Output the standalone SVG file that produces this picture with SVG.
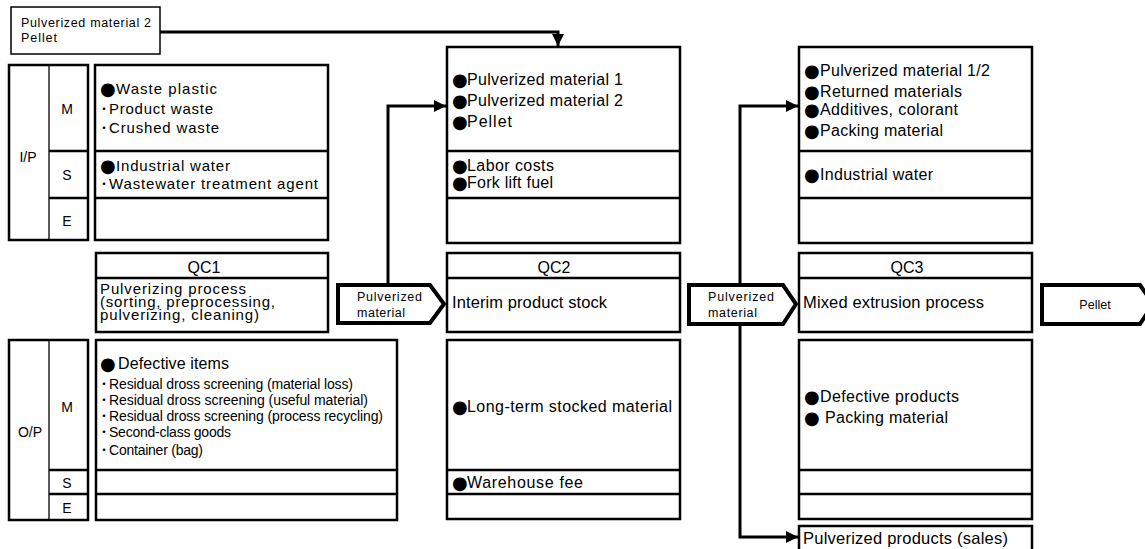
<svg xmlns="http://www.w3.org/2000/svg" width="1145" height="549" viewBox="0 0 1145 549">
<style>
text{font-family:"Liberation Sans",Arial,sans-serif;fill:#000}
.box{fill:#fff;stroke:#000;stroke-width:2.5}
.thin{fill:#fff;stroke:#000;stroke-width:1.5}
.div{stroke:#000;stroke-width:2.5;fill:none}
.vdiv{stroke:#000;stroke-width:1.3;fill:none}
.pent{fill:#fff;stroke:#000;stroke-width:4;stroke-linejoin:miter}
.conn{fill:none;stroke:#000;stroke-width:3}
.lbl{font-size:14px;text-anchor:middle}
.it{font-size:15px}
.it2{font-size:16px}
.sm{font-size:14px}
.proc{font-size:16.5px}
.pp{font-size:15px}
.qc{font-size:16px;text-anchor:middle}
.pt{font-size:12.5px}
.b{font-family:"DejaVu Sans",sans-serif;font-size:18px}
.d{font-family:"Noto Sans CJK JP",sans-serif;font-size:12px}
</style>
<defs>
<marker id="ah" markerUnits="userSpaceOnUse" markerWidth="14" markerHeight="14" refX="12" refY="7" orient="auto">
<path d="M0,1 L12,7 L0,13 Z" fill="#000"/>
</marker>
</defs>

<g id="connectors">
<path class="conn" d="M160,32 H558 V46" marker-end="url(#ah)"/>
<path class="conn" d="M388,285 V106 H446" marker-end="url(#ah)"/>
<path class="conn" d="M740,285 V106 H798" marker-end="url(#ah)"/>
<path class="conn" d="M740,324 V537 H798" marker-end="url(#ah)"/>
</g>

<g id="note">
<rect class="thin" x="11" y="7" width="149" height="47"/>
<text class="pt" x="21" y="27" textLength="130" lengthAdjust="spacing">Pulverized material 2</text>
<text class="pt" x="21" y="42" textLength="36" lengthAdjust="spacing">Pellet</text>
</g>

<g id="ip-label">
<rect class="box" x="9" y="65" width="79" height="175"/>
<line class="vdiv" x1="49" y1="65" x2="49" y2="240"/>
<line class="div" x1="49" y1="151" x2="88" y2="151"/>
<line class="div" x1="49" y1="198" x2="88" y2="198"/>
<text class="lbl" x="28" y="162">I/P</text>
<text class="lbl" x="67" y="114">M</text>
<text class="lbl" x="67" y="180">S</text>
<text class="lbl" x="67" y="226">E</text>
</g>

<g id="ip1">
<rect class="box" x="95" y="65" width="233" height="175"/>
<line class="div" x1="95" y1="151" x2="328" y2="151"/>
<line class="div" x1="95" y1="198" x2="328" y2="198"/>
<text class="b" x="100" y="95">●</text>
<text class="it" x="116" y="94" textLength="101" lengthAdjust="spacing">Waste plastic</text>
<text class="d" x="98" y="114">・</text>
<text class="it" x="109" y="114" textLength="104" lengthAdjust="spacing">Product waste</text>
<text class="d" x="98" y="133">・</text>
<text class="it" x="109" y="133" textLength="110" lengthAdjust="spacing">Crushed waste</text>
<text class="b" x="100" y="172">●</text>
<text class="it" x="116" y="171" textLength="114" lengthAdjust="spacing">Industrial water</text>
<text class="d" x="98" y="189">・</text>
<text class="it" x="109" y="189" textLength="209" lengthAdjust="spacing">Wastewater treatment agent</text>
</g>

<g id="qc1">
<rect class="box" x="96" y="253" width="232" height="79"/>
<line class="div" x1="96" y1="278" x2="328" y2="278"/>
<text class="qc" x="204" y="273">QC1</text>
<text class="pp" x="100" y="294" textLength="146" lengthAdjust="spacing">Pulverizing process</text>
<text class="pp" x="100" y="307" textLength="175" lengthAdjust="spacing">(sorting, preprocessing,</text>
<text class="pp" x="100" y="320" textLength="159" lengthAdjust="spacing">pulverizing, cleaning)</text>
</g>

<g id="flow1">
<polygon class="pent" points="338,285 430,285 444,304 430,323 338,323"/>
<text class="pt" x="357" y="301" textLength="65" lengthAdjust="spacing">Pulverized</text>
<text class="pt" x="357" y="317" textLength="48" lengthAdjust="spacing">material</text>
</g>

<g id="op-label">
<rect class="box" x="9" y="340" width="79" height="180"/>
<line class="vdiv" x1="49" y1="340" x2="49" y2="520"/>
<line class="div" x1="49" y1="470" x2="88" y2="470"/>
<line class="div" x1="49" y1="494" x2="88" y2="494"/>
<text class="lbl" x="30" y="437">O/P</text>
<text class="lbl" x="67" y="412">M</text>
<text class="lbl" x="67" y="488">S</text>
<text class="lbl" x="67" y="513">E</text>
</g>

<g id="op1">
<rect class="box" x="96" y="340" width="301" height="180"/>
<line class="div" x1="96" y1="470" x2="397" y2="470"/>
<line class="div" x1="96" y1="494" x2="397" y2="494"/>
<text class="b" x="100" y="370">●</text>
<text class="it2" x="118" y="369" textLength="111" lengthAdjust="spacing">Defective items</text>
<text class="d" x="98" y="389">・</text>
<text class="sm" x="109" y="389" textLength="244" lengthAdjust="spacing">Residual dross screening (material loss)</text>
<text class="d" x="98" y="405">・</text>
<text class="sm" x="109" y="405" textLength="259" lengthAdjust="spacing">Residual dross screening (useful material)</text>
<text class="d" x="98" y="421">・</text>
<text class="sm" x="109" y="421" textLength="274" lengthAdjust="spacing">Residual dross screening (process recycling)</text>
<text class="d" x="98" y="437">・</text>
<text class="sm" x="109" y="437" textLength="122" lengthAdjust="spacing">Second-class goods</text>
<text class="d" x="98" y="455">・</text>
<text class="sm" x="109" y="455" textLength="94" lengthAdjust="spacing">Container (bag)</text>
</g>

<g id="ip2">
<rect class="box" x="447" y="47" width="233" height="196"/>
<line class="div" x1="447" y1="151" x2="680" y2="151"/>
<line class="div" x1="447" y1="198" x2="680" y2="198"/>
<text class="b" x="452" y="86">●</text>
<text class="it2" x="467" y="85" textLength="156" lengthAdjust="spacing">Pulverized material 1</text>
<text class="b" x="452" y="107">●</text>
<text class="it2" x="467" y="106" textLength="156" lengthAdjust="spacing">Pulverized material 2</text>
<text class="b" x="452" y="128">●</text>
<text class="it2" x="467" y="127" textLength="45" lengthAdjust="spacing">Pellet</text>
<text class="b" x="452" y="172">●</text>
<text class="it2" x="467" y="171" textLength="87" lengthAdjust="spacing">Labor costs</text>
<text class="b" x="452" y="189">●</text>
<text class="it2" x="467" y="188" textLength="86" lengthAdjust="spacing">Fork lift fuel</text>
</g>

<g id="qc2">
<rect class="box" x="447" y="253" width="233" height="79"/>
<line class="div" x1="447" y1="278" x2="680" y2="278"/>
<text class="qc" x="554" y="273">QC2</text>
<text class="proc" x="452" y="308" textLength="155" lengthAdjust="spacing">Interim product stock</text>
</g>

<g id="op2">
<rect class="box" x="447" y="340" width="233" height="179"/>
<line class="div" x1="447" y1="470" x2="680" y2="470"/>
<line class="div" x1="447" y1="494" x2="680" y2="494"/>
<text class="b" x="452" y="413">●</text>
<text class="it2" x="467" y="412" textLength="205" lengthAdjust="spacing">Long-term stocked material</text>
<text class="b" x="452" y="489">●</text>
<text class="it2" x="467" y="488" textLength="116" lengthAdjust="spacing">Warehouse fee</text>
</g>

<g id="flow2">
<polygon class="pent" points="689,285 783,285 796,304 783,324 689,324"/>
<text class="pt" x="708" y="301" textLength="66" lengthAdjust="spacing">Pulverized</text>
<text class="pt" x="708" y="317" textLength="49" lengthAdjust="spacing">material</text>
</g>

<g id="ip3">
<rect class="box" x="799" y="47" width="233" height="196"/>
<line class="div" x1="799" y1="151" x2="1032" y2="151"/>
<line class="div" x1="799" y1="198" x2="1032" y2="198"/>
<text class="b" x="804" y="77">●</text>
<text class="it2" x="820" y="76" textLength="170" lengthAdjust="spacing">Pulverized material 1/2</text>
<text class="b" x="804" y="98">●</text>
<text class="it2" x="820" y="97" textLength="142" lengthAdjust="spacing">Returned materials</text>
<text class="b" x="804" y="116">●</text>
<text class="it2" x="820" y="115" textLength="138" lengthAdjust="spacing">Additives, colorant</text>
<text class="b" x="804" y="137">●</text>
<text class="it2" x="820" y="136" textLength="123" lengthAdjust="spacing">Packing material</text>
<text class="b" x="804" y="181">●</text>
<text class="it2" x="820" y="180" textLength="113" lengthAdjust="spacing">Industrial water</text>
</g>

<g id="qc3">
<rect class="box" x="799" y="253" width="233" height="79"/>
<line class="div" x1="799" y1="278" x2="1032" y2="278"/>
<text class="qc" x="907" y="273">QC3</text>
<text class="proc" x="803" y="308" textLength="181" lengthAdjust="spacing">Mixed extrusion process</text>
</g>

<g id="op3">
<rect class="box" x="799" y="340" width="233" height="179"/>
<line class="div" x1="799" y1="470" x2="1032" y2="470"/>
<line class="div" x1="799" y1="494" x2="1032" y2="494"/>
<text class="b" x="804" y="403">●</text>
<text class="it2" x="820" y="402" textLength="139" lengthAdjust="spacing">Defective products</text>
<text class="b" x="804" y="424">●</text>
<text class="it2" x="825" y="423" textLength="123" lengthAdjust="spacing">Packing material</text>
</g>

<g id="sales">
<rect class="box" x="799" y="526" width="233" height="30"/>
<text class="proc" x="803" y="544" textLength="205" lengthAdjust="spacing">Pulverized products (sales)</text>
</g>

<g id="flow3">
<polygon class="pent" points="1042,285 1140,285 1153,304 1140,324 1042,324"/>
<text class="pt" x="1095" y="309" text-anchor="middle">Pellet</text>
</g>
</svg>
